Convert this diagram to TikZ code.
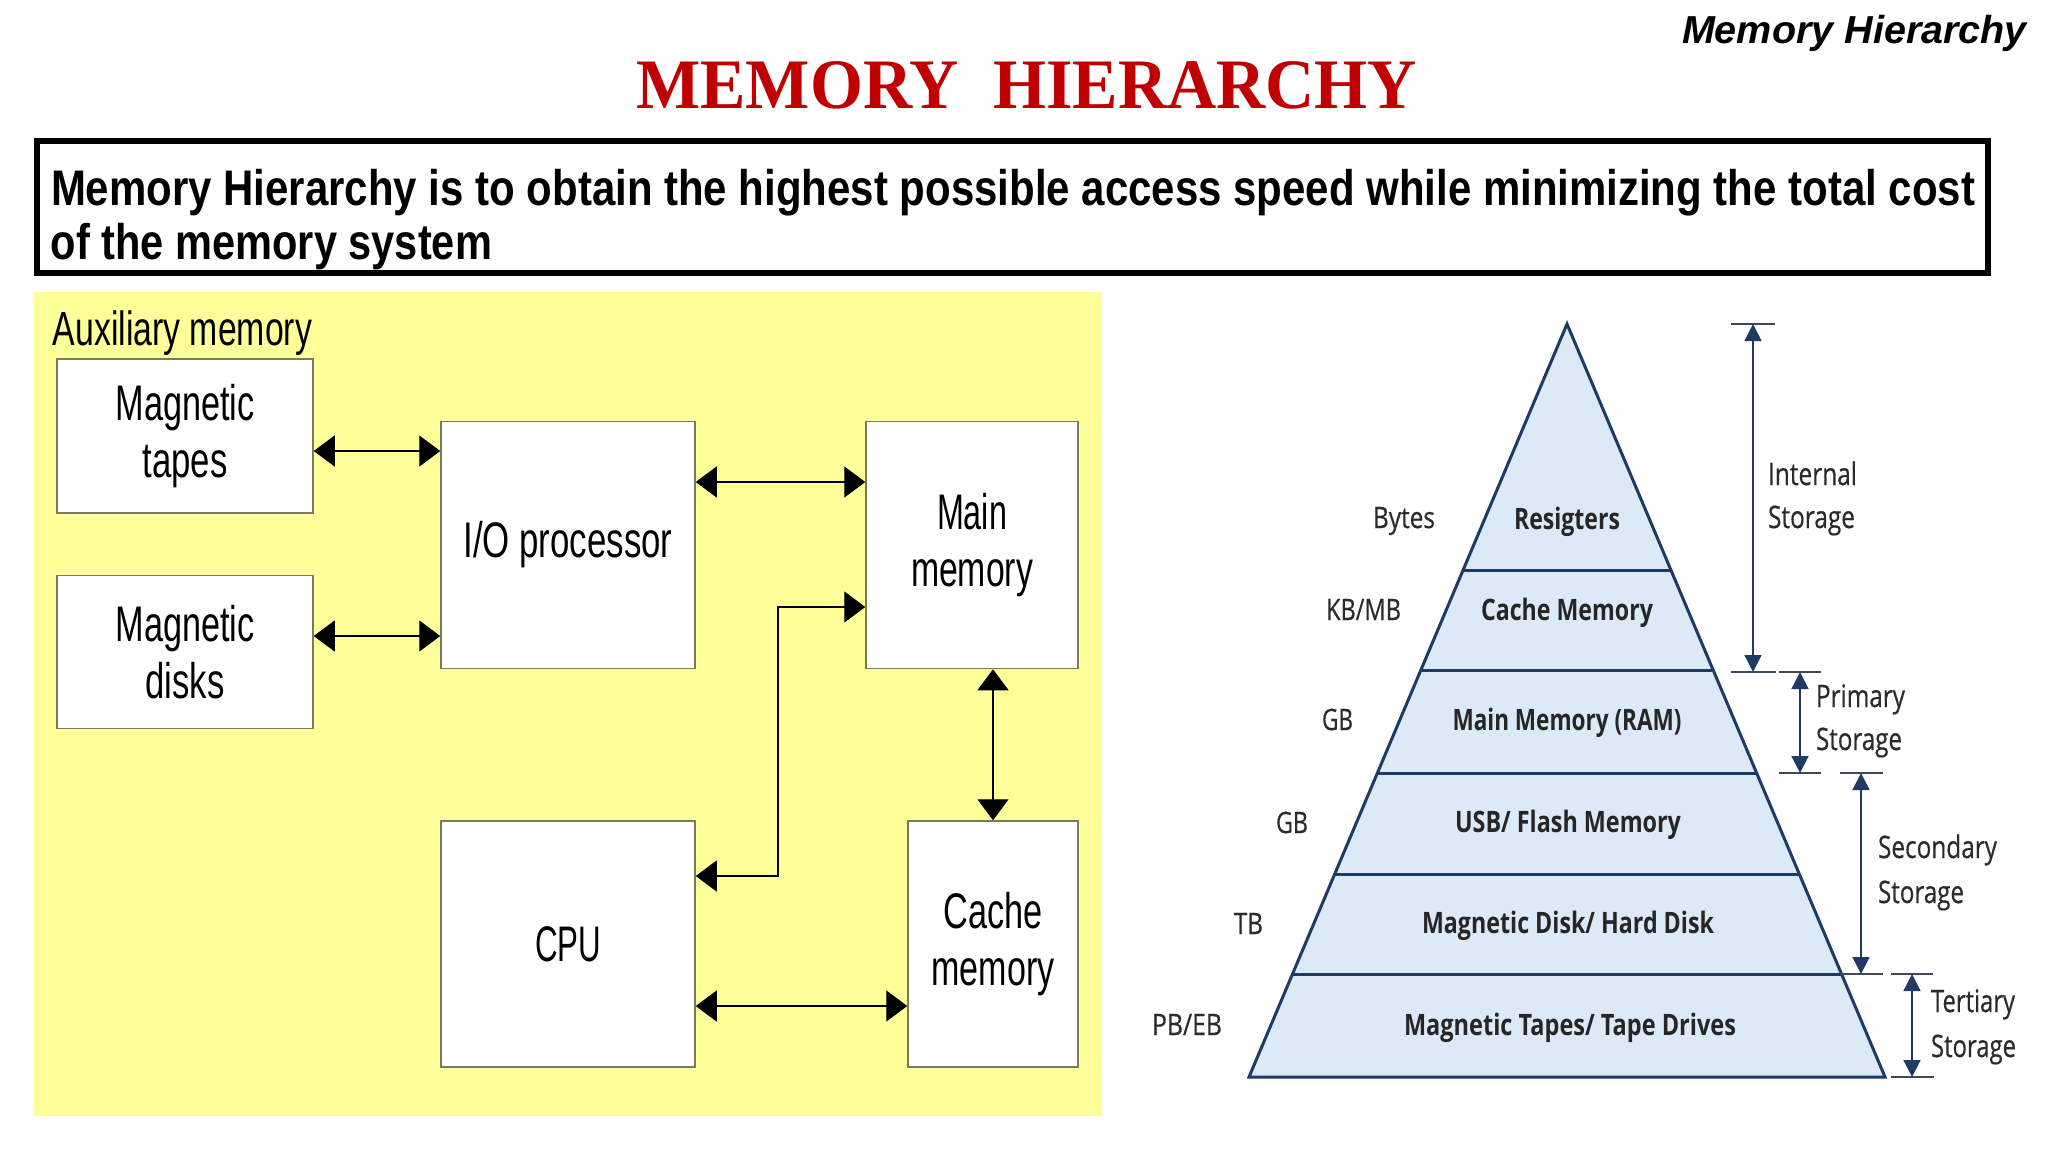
\documentclass[tikz,border=0pt]{standalone}
\usepackage{fontspec}
\usepackage{graphicx}
\setmainfont{Liberation Sans}
\newfontfamily\serifB{Liberation Serif}
\newfontfamily\osans{Open Sans}
\newfontfamily\osansm{Open Sans}[FakeBold=0.5]
\usetikzlibrary{arrows.meta,calc}
\newlength\pxu \setlength\pxu{0.5pt}
\newcommand\hw[2]{\resizebox{#1\pxu}{\height}{#2}}
\definecolor{panelyellow}{HTML}{FFFF99}
\definecolor{titlered}{HTML}{C00000}
\definecolor{boxline}{HTML}{7A7A5C}
\definecolor{navy}{HTML}{1F3A64}
\definecolor{tickgray}{HTML}{3E4A5C}
\definecolor{pyrfill}{HTML}{DCE9F6}
\definecolor{pyrtext}{HTML}{262626}
\definecolor{sidetext}{HTML}{2B2B2B}
\tikzset{
  lbl/.style={inner sep=0pt, outer sep=0pt},
  blk/.style={draw=boxline, fill=white, line width=0.75pt, inner sep=0pt, align=center,
    font=\fontsize{25}{28.5}\selectfont},
  biarrow/.style={line width=0.65pt, {Triangle[length=10.5pt,width=15.5pt]}-{Triangle[length=10.5pt,width=15.5pt]}},
  pyrline/.style={draw=navy, line width=1.5pt},
  brk/.style={draw=navy, line width=0.8pt, {Triangle[length=8.5pt,width=8.5pt]}-{Triangle[length=8.5pt,width=8.5pt]}},
  tickln/.style={draw=tickgray, line width=1pt},
  inlbl/.style={lbl, anchor=base, text=pyrtext, font=\osans\bfseries\fontsize{14.75}{16}\selectfont},
  sidelbl/.style={lbl, anchor=base west, text=sidetext, font=\osansm\fontsize{14.75}{16}\selectfont},
  rlbl/.style={lbl, anchor=base west, text=sidetext, font=\osansm\fontsize{15.5}{17}\selectfont},
}
\begin{document}
\begin{tikzpicture}[x=0.5pt,y=-0.5pt]
\useasboundingbox (0,0) rectangle (2048,1152);
\fill[white] (0,0) rectangle (2048,1152);

% ---------- headings ----------
\node[lbl, anchor=base west, text=titlered, font=\serifB\bfseries\fontsize{35.5}{40}\selectfont]
  (title) at (636,108) {\resizebox{781\pxu}{47\pxu}{MEMORY\ \ HIERARCHY}};
\node[lbl, anchor=base west, font=\bfseries\itshape\fontsize{19.5}{22}\selectfont]
  (corner) at (1682,43) {\hw{345}{Memory Hierarchy}};

\draw[line width=2.75pt] (37,141) rectangle (1988,273);
\node[lbl, anchor=base west, font=\bfseries\fontsize{25}{27}\selectfont] (def1) at (51,205)
  {\hw{1924}{Memory Hierarchy is to obtain the highest possible access speed while minimizing the total cost}};
\node[lbl, anchor=base west, font=\bfseries\fontsize{25}{27}\selectfont] (def2) at (51,259)
  {\hw{441}{of the memory system}};

% ---------- left panel ----------
\fill[panelyellow] (34,292) rectangle (1102,1116);
\node[lbl, anchor=base west, font=\fontsize{24}{26}\selectfont] (aux) at (53,345) {\hw{259}{Auxiliary memory}};

\node[blk, minimum width=256\pxu, minimum height=154\pxu] (tapes) at (185,436)
  {\hw{139}{Magnetic}\\\hw{85}{tapes}};
\node[blk, minimum width=256\pxu, minimum height=153\pxu] (disks) at (185,652)
  {\hw{139}{Magnetic}\\\hw{79}{disks}};
\node[blk, minimum width=254\pxu, minimum height=247\pxu] (io) at (568,545)
  {\hw{209}{I/O processor}};
\node[blk, minimum width=212\pxu, minimum height=247\pxu] (main) at (972,545)
  {\hw{70}{Main}\\\hw{122}{memory}};
\node[blk, minimum width=254\pxu, minimum height=246\pxu] (cpu) at (568,944)
  {\hw{66}{CPU}};
\node[blk, minimum width=170\pxu, minimum height=246\pxu] (cache) at (993,944)
  {\hw{99}{Cache}\\\hw{123}{memory}};

\draw[biarrow] (tapes.east |- 0,451) -- (io.west |- 0,451);
\draw[biarrow] (disks.east |- 0,636) -- (io.west |- 0,636);
\draw[biarrow] (io.east |- 0,482) -- (main.west |- 0,482);
\draw[biarrow] (cpu.east |- 0,876) -| (778,607) -- (main.west |- 0,607);
\draw[biarrow] (main.south -| cache.north) -- (cache.north);
\draw[biarrow] (cpu.east |- 0,1006) -- (cache.west |- 0,1006);

% ---------- right panel: pyramid ----------
\coordinate (apex) at (1567,324);
\coordinate (bl) at (1249,1077);
\coordinate (br) at (1885,1077);
\fill[pyrfill] (apex) -- (bl) -- (br) -- cycle;
\foreach \f in {0.3267,0.4608,0.5963,0.7304,0.8645}
  \draw[pyrline] ($(apex)!\f!(bl)$) -- ($(apex)!\f!(br)$);
\draw[pyrline, line join=miter] (apex) -- (bl) -- (br) -- cycle;

\node[inlbl] (l1) at (1567,529) {\hw{106}{Resigters}};
\node[inlbl] (l2) at (1567,620) {\hw{172}{Cache Memory}};
\node[inlbl] (l3) at (1567,730) {\hw{229}{Main Memory (RAM)}};
\node[inlbl] (l4) at (1568,832) {\hw{226}{USB/ Flash Memory}};
\node[inlbl] (l5) at (1568,933) {\hw{292}{Magnetic Disk/ Hard Disk}};
\node[inlbl] (l6) at (1570,1035) {\hw{332}{Magnetic Tapes/ Tape Drives}};

\node[sidelbl] (s1) at (1373,528) {\hw{62}{Bytes}};
\node[sidelbl] (s2) at (1326,620) {\hw{75}{KB/MB}};
\node[sidelbl] (s3) at (1322,730) {\hw{31}{GB}};
\node[sidelbl] (s4) at (1276,833) {\hw{32}{GB}};
\node[sidelbl] (s5) at (1234,934) {\hw{29}{TB}};
\node[sidelbl] (s6) at (1152,1035) {\hw{70}{PB/EB}};

% brackets
\draw[tickln] (1731,324) -- (1775,324);
\draw[tickln] (1731,672) -- (1776,672);
\draw[brk] (1753,324) -- (1753,672);
\draw[tickln] (1779,672) -- (1821,672);
\draw[tickln] (1779,773) -- (1821,773);
\draw[brk] (1800,672) -- (1800,773);
\draw[tickln] (1840,773) -- (1883,773);
\draw[tickln] (1840,974) -- (1883,974);
\draw[brk] (1861,773) -- (1861,974);
\draw[tickln] (1891,974) -- (1933,974);
\draw[tickln] (1891,1077) -- (1934,1077);
\draw[brk] (1912,974) -- (1912,1077);

\node[rlbl] (r1a) at (1768,485) {\hw{89}{Internal}};
\node[rlbl] (r1b) at (1768,528) {\hw{87}{Storage}};
\node[rlbl] (r2a) at (1816,707) {\hw{89}{Primary}};
\node[rlbl] (r2b) at (1816,750) {\hw{86}{Storage}};
\node[rlbl] (r3a) at (1878,858) {\hw{119}{Secondary}};
\node[rlbl] (r3b) at (1878,903) {\hw{86}{Storage}};
\node[rlbl] (r4a) at (1931,1012) {\hw{84}{Tertiary}};
\node[rlbl] (r4b) at (1931,1057) {\hw{85}{Storage}};
\end{tikzpicture}
\end{document}
